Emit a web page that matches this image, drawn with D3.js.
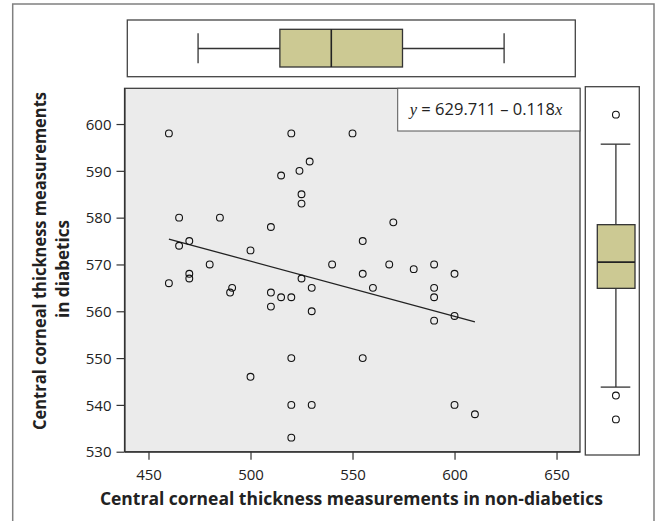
<!DOCTYPE html>
<html>
<head>
<meta charset="utf-8">
<script src="https://cdn.jsdelivr.net/npm/d3@7"></script>
<style>
  body { margin: 0; background: #fff; }
  text { font-family: "Open Sans", sans-serif; fill: #222; }
</style>
</head>
<body>
<div id="chart"></div>
<script>
// non-diabetic (x) vs diabetic (y) central corneal thickness
var nonDiabetic = [460, 520, 550, 529, 524, 515, 525, 525, 465, 485, 510, 570,
  470, 465, 500, 555, 480, 540, 568, 590, 580, 470, 470, 555, 600, 525, 460,
  491, 490, 510, 510, 515, 520, 530, 530, 560, 590, 590, 600, 590, 520, 555,
  500, 520, 530, 600, 610, 520];
var diabetic = [598, 598, 598, 592, 590, 589, 585, 583, 580, 580, 578, 579,
  575, 574, 573, 575, 570, 570, 570, 570, 569, 568, 567, 568, 568, 567, 566,
  565, 564, 564, 561, 563, 563, 565, 560, 565, 565, 563, 559, 558, 550, 550,
  546, 540, 540, 540, 538, 533];

var xTicks = [450, 500, 550, 600, 650];
var yTicks = [530, 540, 550, 560, 570, 580, 590, 600];

// regression y = a + b x
var intercept = 629.711;
var slope = -0.118;

// boxplot stats: whisker low, q1, median, q3, whisker high
var topBox = [474.3, 514.4, 539.6, 574.5, 624.3];
var topOutliers = [];
var rightBox = [543.8, 564.9, 570.5, 578.5, 595.7];
var rightOutliers = [602.0, 542.0, 536.9];

var W = 660, H = 521;
var plot = { left: 124.5, right: 580, top: 88.3, bottom: 451.7 };

var svg = d3.select("#chart").append("svg")
    .attr("width", W)
    .attr("height", H);

// outer frame (open at bottom)
svg.append("path")
  .attr("d", "M12.7," + (H + 5) + "V4H654V" + (H + 5))
  .attr("fill", "none")
  .attr("stroke", "#808080")
  .attr("stroke-width", 1.5);

var x = d3.scaleLinear()
    .domain([438.24, 661.5])
    .range([plot.left, plot.right]);

var y = d3.scaleLinear()
    .domain([530, 530 + (plot.bottom - plot.top) / 4.681])
    .range([plot.bottom, plot.top]);

// plot background
svg.append("rect")
  .attr("x", plot.left)
  .attr("y", plot.top)
  .attr("width", plot.right - plot.left)
  .attr("height", plot.bottom - plot.top)
  .attr("fill", "#ebebeb")
  .attr("stroke", "#333")
  .attr("stroke-width", 1.2);

// axes
var xAxis = d3.axisBottom(x).tickValues(xTicks).tickSize(8).tickSizeOuter(0);
var yAxis = d3.axisLeft(y).tickValues(yTicks).tickSize(8).tickSizeOuter(0);

var gx = svg.append("g")
  .attr("transform", "translate(0," + plot.bottom + ")")
  .call(xAxis);
var gy = svg.append("g")
  .attr("transform", "translate(" + plot.left + ",0)")
  .call(yAxis);

[gx, gy].forEach(function(g) {
  g.select(".domain").attr("stroke", "#333").attr("stroke-width", 1.2);
  g.selectAll(".tick line").attr("stroke", "#333").attr("stroke-width", 1.2);
  g.selectAll(".tick text")
    .attr("font-family", "Open Sans, sans-serif")
    .attr("font-size", 15)
    .attr("fill", "#222");
});
gx.selectAll(".tick text").attr("dy", null).attr("y", 28);
gy.selectAll(".tick text").attr("x", -13).attr("dy", "0.35em");

// regression line across data range
var xr = d3.extent(nonDiabetic);
svg.append("line")
  .attr("x1", x(xr[0]))
  .attr("y1", y(intercept + slope * xr[0]))
  .attr("x2", x(xr[1]))
  .attr("y2", y(intercept + slope * xr[1]))
  .attr("stroke", "#222")
  .attr("stroke-width", 1.3);

// points
svg.selectAll(".pt")
  .data(nonDiabetic)
  .enter()
  .append("circle")
  .attr("class", "pt")
  .attr("cx", function(d) { return x(d); })
  .attr("cy", function(d, i) { return y(diabetic[i]); })
  .attr("r", 3.4)
  .attr("fill", "none")
  .attr("stroke", "#111")
  .attr("stroke-width", 1.1);

// equation box
svg.append("rect")
  .attr("x", 397.7)
  .attr("y", plot.top)
  .attr("width", plot.right - 397.7)
  .attr("height", 131 - plot.top)
  .attr("fill", "#fff")
  .attr("stroke", "#555")
  .attr("stroke-width", 1);

var eq = svg.append("text")
  .attr("x", 486)
  .attr("y", 114.5)
  .attr("text-anchor", "middle")
  .attr("font-size", 16.5);
eq.append("tspan").attr("font-family", "Liberation Serif, serif").attr("font-style", "italic").text("y");
eq.append("tspan").text(" = 629.711 \u2013 0.118");
eq.append("tspan").attr("font-family", "Liberation Serif, serif").attr("font-style", "italic").text("x");

// top boxplot (non-diabetic)
var topPanel = { x0: 127.3, x1: 575.3, y0: 20, y1: 76.7 };
svg.append("rect")
  .attr("x", topPanel.x0).attr("y", topPanel.y0)
  .attr("width", topPanel.x1 - topPanel.x0).attr("height", topPanel.y1 - topPanel.y0)
  .attr("fill", "#fff").attr("stroke", "#444").attr("stroke-width", 1.3);

var tc = 48.5;
var tg = svg.append("g").attr("stroke", "#333").attr("stroke-width", 1.3);
tg.append("line").attr("x1", x(topBox[0])).attr("x2", x(topBox[1])).attr("y1", tc).attr("y2", tc);
tg.append("line").attr("x1", x(topBox[3])).attr("x2", x(topBox[4])).attr("y1", tc).attr("y2", tc);
tg.append("line").attr("x1", x(topBox[0])).attr("x2", x(topBox[0])).attr("y1", 33.3).attr("y2", 63.3);
tg.append("line").attr("x1", x(topBox[4])).attr("x2", x(topBox[4])).attr("y1", 33.3).attr("y2", 63.3);
tg.append("rect")
  .attr("x", x(topBox[1])).attr("y", 29.3)
  .attr("width", x(topBox[3]) - x(topBox[1])).attr("height", 67 - 29.3)
  .attr("fill", "#ccc993");
tg.append("line").attr("x1", x(topBox[2])).attr("x2", x(topBox[2])).attr("y1", 29.3).attr("y2", 67)
  .attr("stroke", "#222").attr("stroke-width", 1.6);
tg.selectAll(".tout").data(topOutliers).enter().append("circle")
  .attr("cx", function(d) { return x(d); }).attr("cy", tc).attr("r", 3.4).attr("fill", "none");

// right boxplot (diabetic)
var rp = { x0: 585.3, x1: 639.3, y0: 86.7, y1: 455 };
svg.append("rect")
  .attr("x", rp.x0).attr("y", rp.y0)
  .attr("width", rp.x1 - rp.x0).attr("height", rp.y1 - rp.y0)
  .attr("fill", "#fff").attr("stroke", "#444").attr("stroke-width", 1.3);

var rc = 615.9;
var rg = svg.append("g").attr("stroke", "#333").attr("stroke-width", 1.3);
rg.append("line").attr("x1", rc).attr("x2", rc).attr("y1", y(rightBox[0])).attr("y2", y(rightBox[1]));
rg.append("line").attr("x1", rc).attr("x2", rc).attr("y1", y(rightBox[3])).attr("y2", y(rightBox[4]));
rg.append("line").attr("x1", 600.7).attr("x2", 630.3).attr("y1", y(rightBox[0])).attr("y2", y(rightBox[0]));
rg.append("line").attr("x1", 600.7).attr("x2", 630.3).attr("y1", y(rightBox[4])).attr("y2", y(rightBox[4]));
rg.append("rect")
  .attr("x", 597.3).attr("y", y(rightBox[3]))
  .attr("width", 635 - 597.3).attr("height", y(rightBox[1]) - y(rightBox[3]))
  .attr("fill", "#ccc993");
rg.append("line").attr("x1", 597.3).attr("x2", 635).attr("y1", y(rightBox[2])).attr("y2", y(rightBox[2]))
  .attr("stroke", "#222").attr("stroke-width", 1.6);
rg.selectAll(".rout").data(rightOutliers).enter().append("circle")
  .attr("cx", rc).attr("cy", function(d) { return y(d); }).attr("r", 3.4)
  .attr("fill", "none").attr("stroke", "#111").attr("stroke-width", 1.1);

// axis titles
svg.append("text")
  .attr("x", 351.4)
  .attr("y", 505)
  .attr("text-anchor", "middle")
  .attr("font-size", 17)
  .attr("font-weight", "bold")
  .attr("textLength", 503)
  .attr("lengthAdjust", "spacingAndGlyphs")
  .text("Central corneal thickness measurements in non-diabetics");

svg.append("text")
  .attr("transform", "translate(45.5,261) rotate(-90)")
  .attr("text-anchor", "middle")
  .attr("font-size", 17)
  .attr("font-weight", "bold")
  .attr("textLength", 338)
  .attr("lengthAdjust", "spacingAndGlyphs")
  .text("Central corneal thickness measurements");

svg.append("text")
  .attr("transform", "translate(68.5,269) rotate(-90)")
  .attr("text-anchor", "middle")
  .attr("font-size", 17)
  .attr("font-weight", "bold")
  .attr("textLength", 98)
  .attr("lengthAdjust", "spacingAndGlyphs")
  .text("in diabetics");
</script>
</body>
</html>
